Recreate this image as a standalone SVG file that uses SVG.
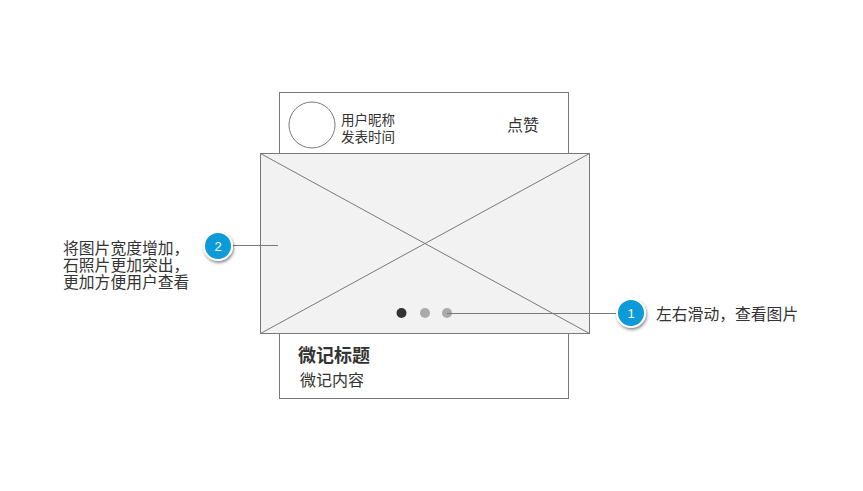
<svg xmlns="http://www.w3.org/2000/svg" width="863" height="491" viewBox="0 0 863 491">
<style>
text{font-family:"Liberation Sans","Noto Sans CJK SC",sans-serif;fill:#333}
.box{fill:#fff;stroke:#797979;stroke-width:1}
.ln{stroke:#797979;stroke-width:1;fill:none}
.badge{fill:#0a9ad8;stroke:#fff;stroke-width:2}
.bt{fill:#fff;font-size:13px;text-anchor:middle}
.note{font-size:15.8px}
</style>
<defs>
<filter id="sh" x="-50%" y="-50%" width="200%" height="200%">
<feDropShadow dx="1" dy="2" stdDeviation="1.5" flood-color="#000" flood-opacity="0.45"/>
</filter>
</defs>
<rect width="863" height="491" fill="#fff"/>
<g id="card">
<rect class="box" x="279.5" y="92.5" width="289" height="306"/>
<circle class="ln" cx="312" cy="125" r="23"/>
<text x="341" y="125" font-size="13.5">用户昵称</text>
<text x="341" y="142" font-size="13.5">发表时间</text>
<text x="507" y="131" font-size="16">点赞</text>
<text x="298" y="362" font-size="18" font-weight="bold">微记标题</text>
<text x="300" y="386" font-size="16">微记内容</text>
</g>
<g id="image">
<rect x="260.5" y="153.5" width="329" height="180" fill="#f2f2f2" stroke="#797979"/>
<line class="ln" x1="260.5" y1="153.5" x2="589.5" y2="333.5"/>
<line class="ln" x1="589.5" y1="153.5" x2="260.5" y2="333.5"/>
<circle cx="401.5" cy="313" r="5" fill="#333"/>
<circle cx="425" cy="313" r="5" fill="#aaa"/>
<circle cx="447" cy="313" r="5" fill="#aaa"/>
</g>
<g id="connectors">
<line class="ln" x1="447" y1="313.5" x2="618" y2="313.5"/>
<line class="ln" x1="232" y1="245.5" x2="278" y2="245.5"/>
</g>
<g id="note1">
<circle class="badge" cx="631" cy="313" r="14" filter="url(#sh)"/>
<text class="bt" x="631" y="318">1</text>
<text class="note" x="656" y="320">左右滑动，查看图片</text>
</g>
<g id="note2">
<circle class="badge" cx="218" cy="246" r="14" filter="url(#sh)"/>
<text class="bt" x="218" y="251">2</text>
<text class="note" x="63" y="254">将图片宽度增加，</text>
<text class="note" x="63" y="271">石照片更加突出，</text>
<text class="note" x="63" y="288">更加方便用户查看</text>
</g>
</svg>
